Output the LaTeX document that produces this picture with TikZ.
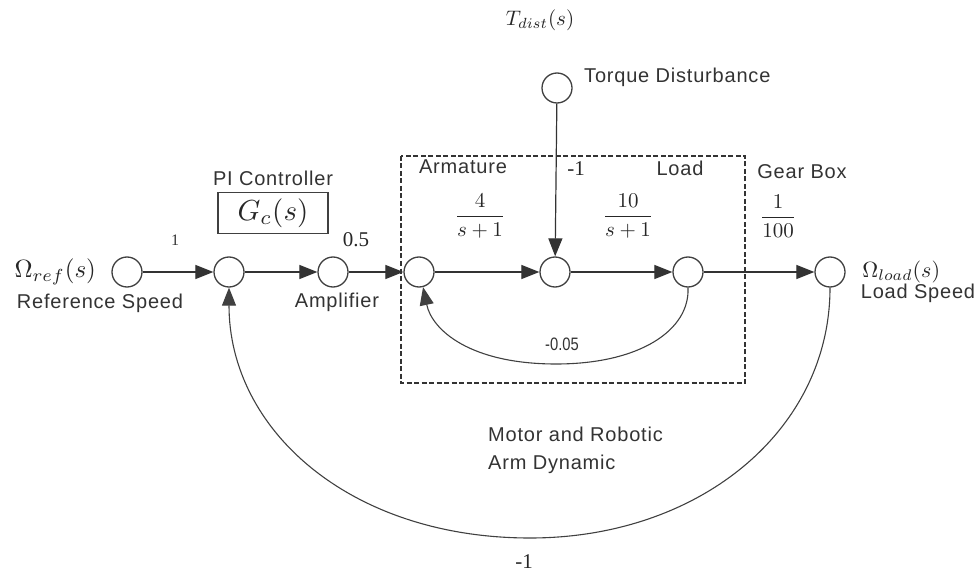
\documentclass[tikz,border=0pt]{standalone}
\usepackage{amsmath}
\usepackage{fontspec}
\setmainfont{Liberation Serif}
\newfontfamily\lab[LetterSpace=4]{Liberation Sans}
\newfontfamily\labn[FakeStretch=0.82]{Liberation Sans}
\usetikzlibrary{arrows.meta}
\begin{document}
\begin{tikzpicture}[x=1pt,y=-1pt,
  sig/.style={circle,draw=black!75,line width=1.3pt,minimum size=30pt,inner sep=0pt},
  txt/.style={font=\lab\fontsize{20}{24}\selectfont,text=black!80,inner sep=0pt},
  mth/.style={font=\normalsize,scale=2.1,transform shape,text=black!85,inner sep=0pt},
  num/.style={font=\fontsize{21}{25}\selectfont,text=black!85,inner sep=0pt},
  wire/.style={line width=1.2pt,draw=black!80,-{Triangle[length=18pt,width=14pt]}},
  fb/.style={line width=1.1pt,draw=black!75,-{Triangle[length=18pt,width=14pt]}}]
\useasboundingbox (0,0) rectangle (979,577);
% nodes
\node[sig] (n1) at (127,272) {};
\node[sig] (n2) at (229,272) {};
\node[sig] (n3) at (333,272) {};
\node[sig] (n4) at (419,272) {};
\node[sig] (n5) at (555,272) {};
\node[sig] (n6) at (688,272) {};
\node[sig] (n7) at (830,272) {};
\node[sig] (nd) at (557,88) {};
% dashed box
\draw[line width=1.4pt,draw=black!80,dash pattern=on 5pt off 2.5pt] (401,156) rectangle (745,383);
% PI box
\node[draw=black!75,line width=1.4pt,minimum width=110pt,minimum height=41pt,inner sep=0pt] (pi) at (273,213) {};
\node[mth,scale=1.38] (gc) at (pi.center) {$G_c(s)$};
% connectors
\draw[wire] (n1) -- (n2);
\draw[wire] (n2) -- (n3);
\draw[wire] (n3) -- (n4);
\draw[wire] (n4) -- (n5);
\draw[wire] (n5) -- (n6);
\draw[wire] (n6) -- (n7);
\draw[wire] (nd) -- (n5);
\draw[fb] (n6.south) .. controls (690,330) and (640,364) .. (556,364) .. controls (470,364) and (432,330) .. (n4.-75);
\draw[fb] (n7.south) .. controls (830,430) and (700,538) .. (530,538) .. controls (350,538) and (229,430) .. (n2.south);
% labels
\node[mth,scale=1.19,anchor=west] (lref) at (14,272) {$\Omega_{ref}(s)$};
\node[mth,scale=1.05,anchor=west] (lload) at (862,272) {$\Omega_{load}(s)$};
\node[mth] (ltd) at (540,20) {$T_{dist}(s)$};
\node[txt,anchor=west] (ltq) at (584,77) {Torque Disturbance};
\node[txt] (lrs) at (100,303) {Reference Speed};
\node[txt] (lamp) at (337,302) {Amplifier};
\node[txt] (lpi) at (273,178) {PI Controller};
\node[txt] (larm) at (463,167) {Armature};
\node[txt] (lld) at (680,168) {Load};
\node[txt] (lgb) at (802,172) {Gear Box};
\node[txt] (lls) at (918,293) {Load Speed};
\node[txt,anchor=west,align=left] (lmot) at (488,450) {Motor and Robotic\\[4pt]Arm Dynamic};
\node[num] (l05) at (356,240) {0.5};
\node[font=\fontsize{16}{18}\selectfont,text=black!80] (l1) at (175,240) {1};
\node[num] (lm1a) at (576,169) {-1};
\node[num] (lm1b) at (524,562) {-1};
\node[font=\labn\fontsize{18}{20}\selectfont,text=black!80] (l005) at (562,344) {-0.05};
\node[mth] (f1) at (480,216) {$\dfrac{4}{s+1}$};
\node[mth] (f2) at (628,216) {$\dfrac{10}{s+1}$};
\node[mth] (f3) at (778,216) {$\dfrac{1}{100}$};
\end{tikzpicture}
\end{document}
